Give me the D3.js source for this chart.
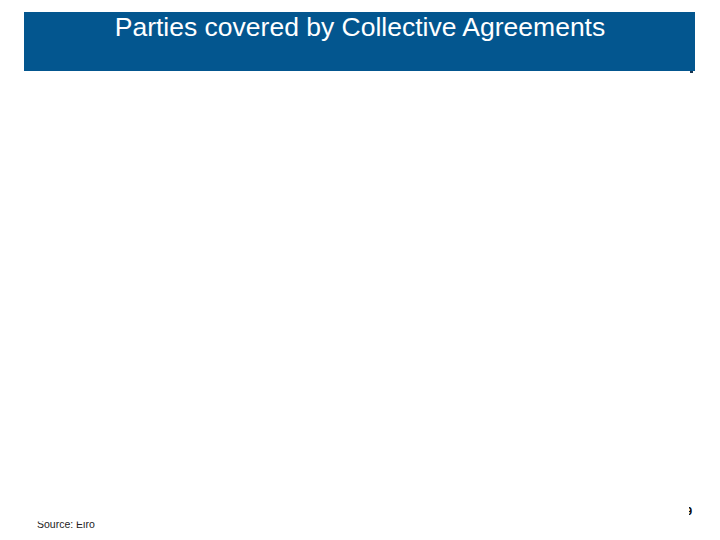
<!DOCTYPE html>
<html>
<head>
<meta charset="utf-8">
<script src="https://cdn.jsdelivr.net/npm/d3@7"></script>
<style>
  html, body { margin: 0; padding: 0; background: #fff; }
  svg { display: block; }
</style>
</head>
<body>
<div id="chart"></div>
<script>
// texts shown on the slide
const titleText = "Parties covered by Collective Agreements";
const sourceText = "Source: Eiro";
const pageText = "9";

const svg = {
    width: 720,
    height: 540,
    header: { x: 24, y: 12, w: 671, h: 59 },
    blue: "#03568f"
};

const chart = d3.select("#chart")
    .append("svg")
    .attr("width", svg.width)
    .attr("height", svg.height);

// header band
chart.append("rect")
    .attr("x", svg.header.x)
    .attr("y", svg.header.y)
    .attr("width", svg.header.w)
    .attr("height", svg.header.h)
    .attr("fill", svg.blue);

// little shadow edge under the band
chart.append("rect")
    .attr("x", 690)
    .attr("y", 71)
    .attr("width", 3)
    .attr("height", 2)
    .attr("fill", "#1a3550");

chart.append("text")
    .attr("x", 360)
    .attr("y", 36)
    .attr("text-anchor", "middle")
    .attr("fill", "#ffffff")
    .style("font-family", "Liberation Sans, Arial, sans-serif")
    .style("font-size", "26.5px")
    .text(titleText);

// source note, bottom left (top of the glyphs is cut off in the original)
chart.append("clipPath")
    .attr("id", "src")
    .append("rect")
    .attr("x", 30)
    .attr("y", 521.5)
    .attr("width", 100)
    .attr("height", 15);

chart.append("text")
    .attr("x", 37)
    .attr("y", 528)
    .attr("clip-path", "url(#src)")
    .attr("fill", "#222")
    .style("font-family", "Liberation Sans, Arial, sans-serif")
    .style("font-size", "10.5px")
    .text(sourceText);

// clipped page number, bottom right
chart.append("clipPath")
    .attr("id", "pg")
    .append("rect")
    .attr("x", 689)
    .attr("y", 500)
    .attr("width", 5)
    .attr("height", 20);

chart.append("text")
    .attr("x", 686)
    .attr("y", 515)
    .attr("clip-path", "url(#pg)")
    .attr("fill", "#000")
    .style("font-family", "Liberation Sans, Arial, sans-serif")
    .style("font-size", "11px")
    .style("font-weight", "bold")
    .text(pageText);
</script>
</body>
</html>
